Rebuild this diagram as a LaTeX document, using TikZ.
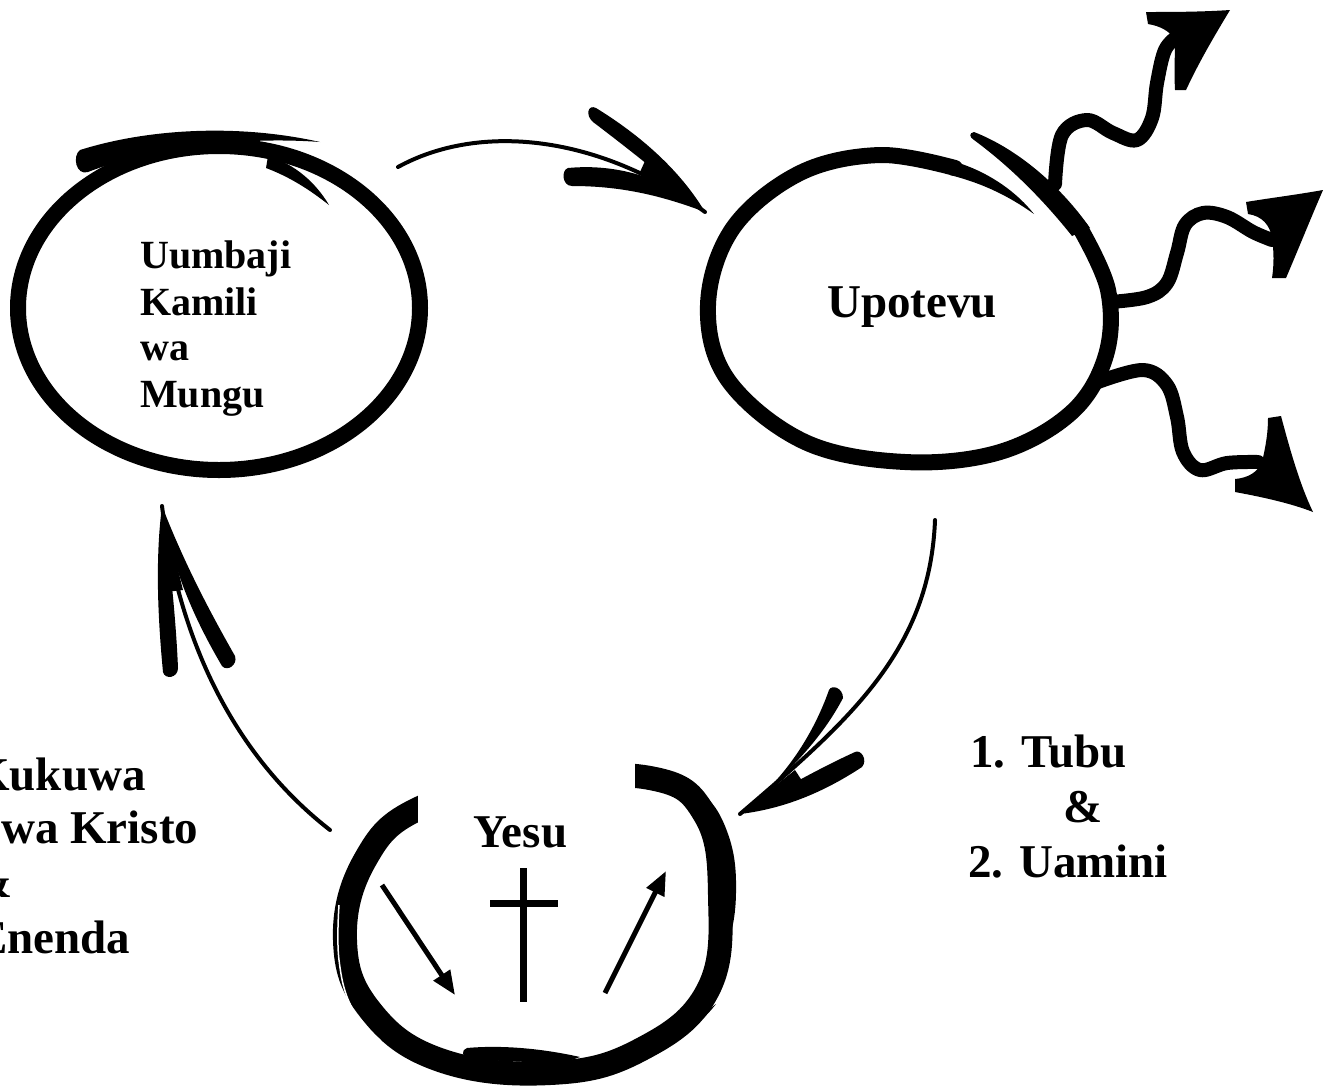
\documentclass[tikz,border=0pt]{standalone}
\usepackage{fontspec}
\setmainfont{Liberation Serif}
\usetikzlibrary{arrows.meta}
\begin{document}
\begin{tikzpicture}[x=1pt,y=-1pt,
  lbl/.style={font=\fontsize{47}{54}\selectfont\bfseries, inner sep=0pt, anchor=base west},
  lblsmall/.style={font=\fontsize{40}{46}\selectfont\bfseries, inner sep=0pt, anchor=base west},
  ring/.style={line width=16pt, line join=round, line cap=round},
  thickring/.style={line width=24pt, line join=round},
  thinline/.style={line width=4pt, line cap=round},
  ink/.style={fill=black, draw=none},
  wave/.style={line width=14pt, line cap=round, line join=round},
  inarrow/.style={line width=5pt, -{Triangle[length=24pt,width=19pt]}}
]
\useasboundingbox (0,0) rectangle (1338,1088);
\fill[white] (0,0) rectangle (1338,1088);

% ---------- named points ----------
\coordinate (a1s) at (398,167);  \coordinate (a1e) at (705,212);
\coordinate (a2s) at (935,520);  \coordinate (a2e) at (740,814);
\coordinate (a3s) at (330,830);  \coordinate (a3e) at (162,506);
\coordinate (d1s) at (382,885);  \coordinate (d1e) at (455,995);
\coordinate (d2s) at (605,993);  \coordinate (d2e) at (666,871);
\coordinate (cv1) at (523,868);  \coordinate (cv2) at (523,1002);
\coordinate (ch1) at (490,903);  \coordinate (ch2) at (558,903);

% ---------- left circle: Uumbaji ----------
\draw[ring] (219,308) ellipse [x radius=201pt, y radius=162pt];
\fill[ink] (80,150) .. controls (150,128) and (240,124) .. (320,142)
  .. controls (240,136) and (150,148) .. (88,172)
  .. controls (76,176) and (72,156) .. cycle;
\fill[ink] (268,156) .. controls (295,164) and (316,183) .. (329,205)
  .. controls (310,190) and (290,177) .. (266,168) -- cycle;

% ---------- right circle: Upotevu ----------
\draw[ring] plot[smooth, tension=0.6] coordinates {(1080,228) (1108,290) (1106,355) (1072,412) (1000,452) (905,462) (805,442) (728,380) (708,305) (733,228) (800,173) (880,155) (955,168)};
\fill[ink] (952,161) .. controls (985,170) and (1015,190) .. (1034,214)
  .. controls (1010,197) and (985,184) .. (950,175) -- cycle;
\fill[ink] (974,132) .. controls (1020,150) and (1062,188) .. (1090,228)
  -- (1072,236) .. controls (1045,202) and (1012,168) .. (974,140)
  .. controls (969,137) and (969,133) .. cycle;

% wavy arrows out of Upotevu
\draw[wave] plot[smooth, tension=0.6] coordinates {(1055,184) (1062,135) (1087,120) (1113,133) (1137,140) (1152,118) (1157,83) (1165,50) (1178,36)};
\fill[ink] (1230,10) .. controls (1200,12) and (1170,12) .. (1146,12)
  -- (1148,24) .. controls (1160,26) and (1170,31) .. (1175,40)
  .. controls (1175,55) and (1174,72) .. (1175,90)
  -- (1186,90) .. controls (1200,60) and (1215,35) .. cycle;

\draw[wave] plot[smooth, tension=0.6] coordinates {(1110,302) (1147,297) (1167,283) (1177,253) (1185,225) (1203,213) (1227,217) (1253,232) (1272,240)};
\fill[ink] (1323,190) .. controls (1295,195) and (1270,198) .. (1246,202)
  -- (1248,214) .. controls (1262,216) and (1270,225) .. (1272,238)
  .. controls (1274,252) and (1274,265) .. (1272,278)
  -- (1286,278) .. controls (1298,250) and (1310,220) .. cycle;

\draw[wave] plot[smooth, tension=0.6] coordinates {(1098,382) (1143,370) (1167,385) (1177,417) (1183,452) (1200,470) (1227,463) (1258,462)};
\fill[ink] (1313,512) .. controls (1290,503) and (1262,497) .. (1235,492)
  -- (1235,479) .. controls (1248,478) and (1258,472) .. (1262,462)
  .. controls (1266,445) and (1268,432) .. (1268,418)
  -- (1281,416) .. controls (1290,450) and (1300,485) .. cycle;

% ---------- bottom circle: Yesu ----------
\draw[thickring] plot[smooth cycle, tension=0.7] coordinates {(720,895) (708,990) (640,1050) (550,1073) (440,1060) (370,1010) (345,940) (365,860) (420,808) (530,782) (650,778) (705,815)};
\draw[line width=12pt, line cap=round] plot[smooth, tension=0.7] coordinates {(648,776) (694,794) (722,835) (730,893) (720,950) (697,1000)};
\fill[ink] (716,1004) .. controls (695,1020) and (675,1031) .. (645,1040)
  -- (652,1050) .. controls (682,1039) and (702,1022) .. cycle;
\fill[ink] (467,1048) .. controls (500,1045) and (540,1048) .. (580,1057)
  -- (560,1064) .. controls (520,1061) and (490,1061) .. (471,1059)
  .. controls (461,1057) and (461,1050) .. cycle;
\draw[white, line width=1.5pt] plot[smooth, tension=0.7] coordinates {(339,905) (339,960) (352,1008) (380,1040)};
\fill[white] (418,745) rectangle (635,866);

% cross and inner arrows
\draw[inarrow] (d1s) -- (d1e);
\draw[inarrow] (d2s) -- (d2e);
\draw[line width=7pt] (cv1) -- (cv2);
\draw[line width=7pt] (ch1) -- (ch2);

% ---------- connectors ----------
% Uumbaji -> Upotevu
\draw[thinline] (a1s) .. controls (480,122) and (600,135) .. (a1e);
\fill[ink] (596,108) .. controls (640,135) and (680,170) .. (a1e)
  .. controls (670,182) and (630,150) .. (593,122)
  .. controls (585,115) and (588,104) .. cycle;
\fill[ink] (568,168) .. controls (620,163) and (670,180) .. (a1e)
  .. controls (660,195) and (620,186) .. (572,186)
  .. controls (562,186) and (561,170) .. cycle;
\fill[ink] (a1e) -- (650,150) -- (640,172) -- cycle;

% Upotevu -> Yesu
\draw[thinline] (a2s) .. controls (930,650) and (850,720) .. (a2e);
\fill[ink] (829,690) .. controls (812,738) and (782,782) .. (a2e)
  .. controls (790,772) and (822,738) .. (843,698)
  .. controls (843,688) and (832,684) .. cycle;
\fill[ink] (855,752) .. controls (820,768) and (780,790) .. (a2e)
  .. controls (790,808) and (830,788) .. (862,767)
  .. controls (868,760) and (861,749) .. cycle;
\fill[ink] (a2e) -- (795,770) -- (808,790) -- cycle;

% Yesu -> Uumbaji
\draw[thinline] (a3s) .. controls (240,760) and (180,650) .. (a3e);
\fill[ink] (163,672) .. controls (158,620) and (155,560) .. (a3e)
  .. controls (170,560) and (176,620) .. (178,668)
  .. controls (178,678) and (165,680) .. cycle;
\fill[ink] (222,666) .. controls (195,620) and (172,570) .. (a3e)
  .. controls (185,565) and (210,612) .. (235,656)
  .. controls (238,665) and (227,672) .. cycle;
\fill[ink] (a3e) -- (166,592) -- (183,590) -- cycle;

% ---------- texts ----------
\node[lblsmall] (u1) at (140,268) {Uumbaji};
\node[lblsmall] (u2) at (140,315) {Kamili};
\node[lblsmall] (u3) at (140,360) {wa};
\node[lblsmall] (u4) at (140,407) {Mungu};

\node[lbl] (upotevu) at (827,317) {Upotevu};
\node[lbl] (yesu) at (473,847) {Yesu};

\node[lbl] (t1) at (970,767) {1. Tubu};
\node[lbl] (t2) at (1063,822) {\&};
\node[lbl] (t3) at (968,877) {2. Uamini};

\node[lbl] (k1) at (-27,790) {Kukuwa};
\node[lbl] (k2) at (1,843) {wa Kristo};
\node[lbl] (k3) at (-27,897) {\&};
\node[lbl] (k4) at (-24,953) {Enenda};
\end{tikzpicture}
\end{document}
